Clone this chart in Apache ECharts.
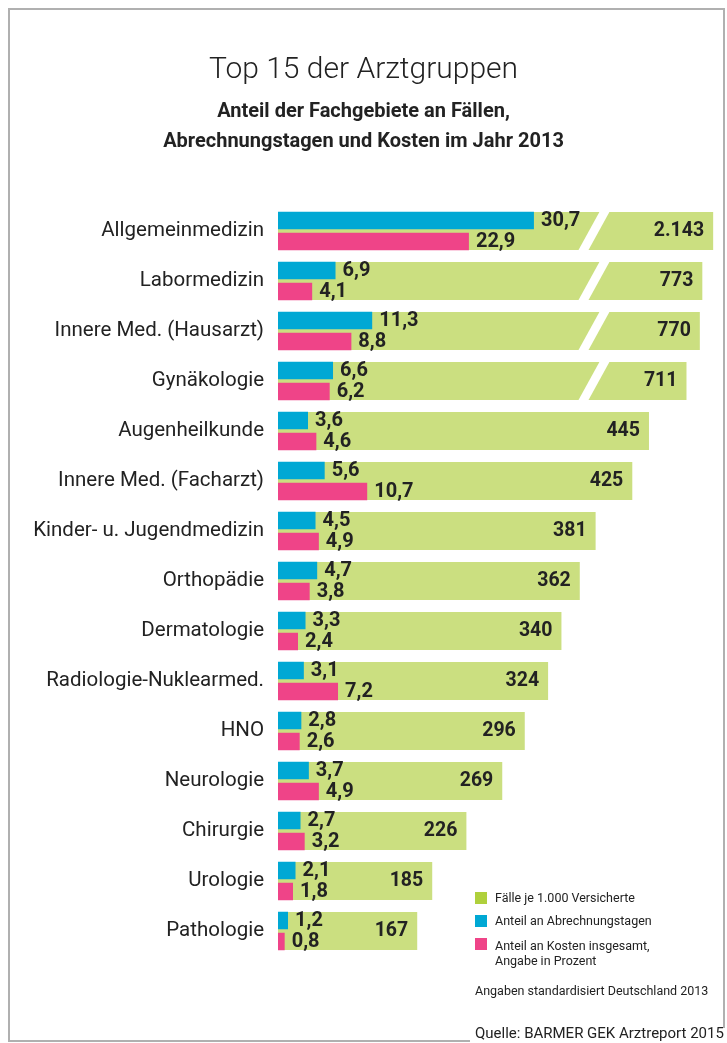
<!DOCTYPE html>
<html>
<head>
<meta charset="utf-8">
<script src="https://cdn.jsdelivr.net/npm/echarts@6/dist/echarts.min.js"></script>
<style>
  html, body { margin: 0; padding: 0; background: #fff; }
  #chart { width: 727px; height: 1043px; }
</style>
</head>
<body>
<div id="chart"></div>
<script>
// Daten: Top 15 der Arztgruppen 2013
const categories = [
  'Allgemeinmedizin', 'Labormedizin', 'Innere Med. (Hausarzt)', 'Gynäkologie',
  'Augenheilkunde', 'Innere Med. (Facharzt)', 'Kinder- u. Jugendmedizin', 'Orthopädie',
  'Dermatologie', 'Radiologie-Nuklearmed.', 'HNO', 'Neurologie', 'Chirurgie',
  'Urologie', 'Pathologie'
]
// Fälle je 1.000 Versicherte
const faelle = [2143, 773, 770, 711, 445, 425, 381, 362, 340, 324, 296, 269, 226, 185, 167]
// Anteil an Abrechnungstagen (%)
const abrechnungstage = [30.7, 6.9, 11.3, 6.6, 3.6, 5.6, 4.5, 4.7, 3.3, 3.1, 2.8, 3.7, 2.7, 2.1, 1.2]
// Anteil an Kosten insgesamt (%)
const kosten = [22.9, 4.1, 8.8, 6.2, 4.6, 10.7, 4.9, 3.8, 2.4, 7.2, 2.6, 4.9, 3.2, 1.8, 0.8]

// broken value axis for the long bars (hidden, the slash is drawn per bar)
const faelleBreaks = [
  { start: 480, end: 702, gap: 1 },
  { start: 712, end: 765, gap: 10 },
  { start: 775, end: 2133, gap: 1 }
]
const faelleMax = 2150
const breakFrom = faelleBreaks[0].start
const slashAt = 373

const green = '#cbdf80'
const blue = '#00a8d4'
const pink = '#ef4488'
const textColor = '#222'
const font = 'Roboto'

// visible span of the broken axis, the percent axis uses 10x the same scale
const collapsed = faelleBreaks.reduce((s, b) => s + (b.end - b.start - b.gap), 0)
const percentMax = (faelleMax - collapsed) / 10

const fmtThousand = v => String(v).replace(/\B(?=(\d{3})+(?!\d))/g, '.')
const fmtPercent = v => v.toFixed(1).replace('.', ',')

const slashData = faelle
  .map((v, i) => (v > breakFrom ? [slashAt, i] : null))
  .filter(d => d)

const chart = echarts.init(document.getElementById('chart'))

const option = {
  backgroundColor: '#fff',
  animation: false,
  textStyle: { fontFamily: font },
  title: [{
    text: 'Top 15 der Arztgruppen',
    left: 'center',
    top: 50,
    padding: [5, 5, 5, 13],
    textStyle: { fontFamily: font, fontSize: 30, fontWeight: 300, color: textColor }
  }, {
    text: 'Anteil der Fachgebiete an Fällen,\nAbrechnungstagen und Kosten im Jahr 2013',
    left: 'center',
    top: 92,
    padding: [5, 5, 5, 13],
    textStyle: { fontFamily: font, fontSize: 20, fontWeight: 'bold', color: textColor, lineHeight: 30 }
  }],
  grid: {
    left: 278,
    top: 206,
    width: 441,
    height: 750
  },
  xAxis: [{
    type: 'value',
    show: false,
    min: 0,
    max: faelleMax,
    breaks: faelleBreaks,
    breakArea: { show: false }
  }, {
    type: 'value',
    show: false,
    min: 0,
    max: percentMax
  }],
  yAxis: [{
    type: 'category',
    inverse: true,
    data: categories,
    axisLine: { show: false },
    axisTick: { show: false },
    axisLabel: { fontSize: 20.5, color: textColor, margin: 14, fontFamily: font }
  }, {
    type: 'category',
    inverse: true,
    data: categories,
    show: false
  }],
  graphic: [
    // Rahmen
    {
      type: 'polyline',
      shape: { points: [[470, 1041], [9, 1041], [9, 9], [724, 9], [724, 1028]] },
      style: { stroke: '#b0b0b0', lineWidth: 2, fill: null }
    },
    // Legende
    { type: 'rect', left: 475, top: 892, shape: { width: 12, height: 12 }, style: { fill: '#afd03c' } },
    { type: 'text', left: 495, top: 892, style: { text: 'Fälle je 1.000 Versicherte', fontSize: 12.5, fontFamily: font, fill: textColor } },
    { type: 'rect', left: 475, top: 915, shape: { width: 12, height: 12 }, style: { fill: blue } },
    { type: 'text', left: 495, top: 915, style: { text: 'Anteil an Abrechnungstagen', fontSize: 12.5, fontFamily: font, fill: textColor } },
    { type: 'rect', left: 475, top: 938, shape: { width: 12, height: 12 }, style: { fill: pink } },
    { type: 'text', left: 495, top: 939, style: { text: 'Anteil an Kosten insgesamt,\nAngabe in Prozent', fontSize: 12.5, lineHeight: 15, fontFamily: font, fill: textColor } },
    { type: 'text', left: 475, top: 985, style: { text: 'Angaben standardisiert Deutschland 2013', fontSize: 12.5, fontFamily: font, fill: textColor } },
    { type: 'text', left: 475, top: 1027, style: { text: 'Quelle: BARMER GEK Arztreport 2015', fontSize: 15, fontFamily: font, fill: textColor } }
  ],
  series: [{
    name: 'Fälle je 1.000 Versicherte',
    type: 'bar',
    xAxisIndex: 0,
    yAxisIndex: 0,
    barWidth: 38,
    z: 1,
    itemStyle: { color: green },
    label: {
      show: true,
      position: 'insideRight',
      distance: 9,
      fontSize: 19.5,
      fontWeight: 'bold',
      color: textColor,
      fontFamily: font,
      formatter: p => fmtThousand(p.value)
    },
    data: faelle
  }, {
    // Unterbrechung der langen Balken
    type: 'custom',
    xAxisIndex: 0,
    yAxisIndex: 0,
    z: 2,
    silent: true,
    renderItem: function (params, api) {
      const p = api.coord([api.value(0), api.value(1)])
      const h = 40
      const lean = 11
      const w = 10
      return {
        type: 'polygon',
        shape: {
          points: [
            [p[0] + lean, p[1] - h / 2], [p[0] + lean + w, p[1] - h / 2],
            [p[0] - lean + w, p[1] + h / 2], [p[0] - lean, p[1] + h / 2]
          ]
        },
        style: { fill: '#fff' }
      }
    },
    data: slashData
  }, {
    name: 'Anteil an Abrechnungstagen',
    type: 'bar',
    xAxisIndex: 1,
    yAxisIndex: 1,
    barWidth: 17.5,
    barGap: '20%',
    z: 3,
    itemStyle: { color: blue },
    label: {
      show: true,
      position: 'right',
      distance: 7,
      fontSize: 20,
      fontWeight: 'bold',
      color: textColor,
      fontFamily: font,
      formatter: p => fmtPercent(p.value)
    },
    data: abrechnungstage
  }, {
    name: 'Anteil an Kosten insgesamt',
    type: 'bar',
    xAxisIndex: 1,
    yAxisIndex: 1,
    barWidth: 17.5,
    barGap: '20%',
    z: 3,
    itemStyle: { color: pink },
    label: {
      show: true,
      position: 'right',
      distance: 7,
      fontSize: 20,
      fontWeight: 'bold',
      color: textColor,
      fontFamily: font,
      formatter: p => fmtPercent(p.value)
    },
    data: kosten
  }]
}

chart.setOption(option)
</script>
</body>
</html>
